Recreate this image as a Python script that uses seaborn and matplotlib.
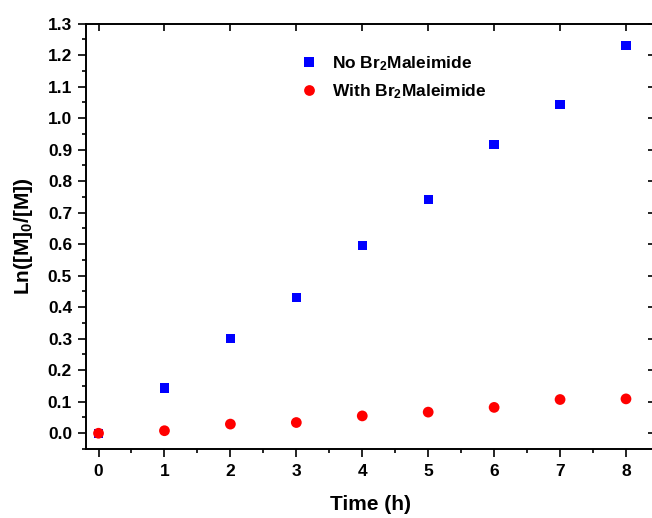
import matplotlib
matplotlib.use("Agg")
import matplotlib.pyplot as plt
import seaborn as sns
import pandas as pd
from matplotlib.ticker import MultipleLocator

time_h = [0, 1, 2, 3, 4, 5, 6, 7, 8]
no_br2 = [0.0, 0.144, 0.300, 0.431, 0.596, 0.741, 0.916, 1.044, 1.231]
with_br2 = [0.0, 0.008, 0.029, 0.034, 0.055, 0.067, 0.082, 0.107, 0.109]
label_no = r"No Br$_{\mathbf{2}}$Maleimide"
label_with = r"With Br$_{\mathbf{2}}$Maleimide"

sns.set_theme(style="white")
plt.rcParams["font.family"] = ["Liberation Sans", "DejaVu Sans"]
plt.rcParams["font.weight"] = "bold"
plt.rcParams["text.color"] = "black"
plt.rcParams["axes.labelcolor"] = "black"
plt.rcParams["xtick.color"] = "black"
plt.rcParams["ytick.color"] = "black"
plt.rcParams["mathtext.fontset"] = "custom"
plt.rcParams["mathtext.rm"] = "Liberation Sans:bold"
plt.rcParams["mathtext.bf"] = "Liberation Sans:bold"
plt.rcParams["mathtext.default"] = "bf"

df_no = pd.DataFrame({"Time": time_h, "val": no_br2, "series": label_no})
df_with = pd.DataFrame({"Time": time_h, "val": with_br2, "series": label_with})

fig = plt.figure(figsize=(6.52, 5.18), dpi=100)
ax = fig.add_axes([86/652, 1-449/518, (655-86)/652, (449-23.5)/518])

sns.scatterplot(data=df_no, x="Time", y="val", hue="series", palette=["#0000FF"],
                marker="s", s=45, linewidth=0, ax=ax, zorder=3)
sns.scatterplot(data=df_with, x="Time", y="val", hue="series", palette=["#FF0000"],
                marker="o", s=60, linewidth=0, ax=ax, zorder=3)

ax.set_xlim(-0.19, 8.44)
ax.set_ylim(-0.05, 1.3)
ax.xaxis.set_major_locator(MultipleLocator(1))
ax.xaxis.set_minor_locator(MultipleLocator(0.5))
ax.yaxis.set_major_locator(MultipleLocator(0.1))
ax.yaxis.set_minor_locator(MultipleLocator(0.05))
ax.yaxis.set_major_formatter(matplotlib.ticker.FormatStrFormatter("%.1f"))

for sp in ax.spines.values():
    sp.set_visible(True)
    sp.set_color("black")
    sp.set_linewidth(1.4)

ax.tick_params(axis="both", which="major", direction="out", length=6, width=1.2,
               color="black", labelsize=12.5, labelcolor="black")
ax.tick_params(axis="both", which="minor", direction="out", length=3, width=1.2, color="black")
ax.tick_params(axis="x", which="both", bottom=True, top=False, pad=5)
ax.tick_params(axis="y", which="both", left=True, right=False, pad=4)

# mirrored inward ticks on top and right (major only)
sec_x = ax.secondary_xaxis("top")
sec_x.xaxis.set_major_locator(MultipleLocator(1))
sec_x.tick_params(direction="in", length=6, width=1.2, labeltop=False, color="black")
sec_x.spines["top"].set_visible(False)
sec_y = ax.secondary_yaxis("right")
sec_y.yaxis.set_major_locator(MultipleLocator(0.1))
sec_y.tick_params(direction="in", length=5, width=1.2, labelright=False, color="black")
sec_y.spines["right"].set_visible(False)

for lab in ax.get_xticklabels() + ax.get_yticklabels():
    lab.set_fontweight("bold")
    lab.set_color("black")

ax.set_xlabel("Time (h)", fontsize=15, fontweight="bold", labelpad=11, color="black")
ax.set_ylabel("Ln([M]$_{\\mathbf{0}}$/[M])", fontsize=15, fontweight="bold", labelpad=9,
              color="black")

handles, labels = ax.get_legend_handles_labels()
leg = ax.legend(handles, labels, loc="upper left", bbox_to_anchor=(0.3615, 0.948),
                frameon=False, borderpad=0, handlelength=1.0, handletextpad=0.85,
                labelspacing=0.55, labelcolor="black",
                prop={"size": 12.5, "weight": "bold"})

fig.savefig("out.png", dpi=100)
